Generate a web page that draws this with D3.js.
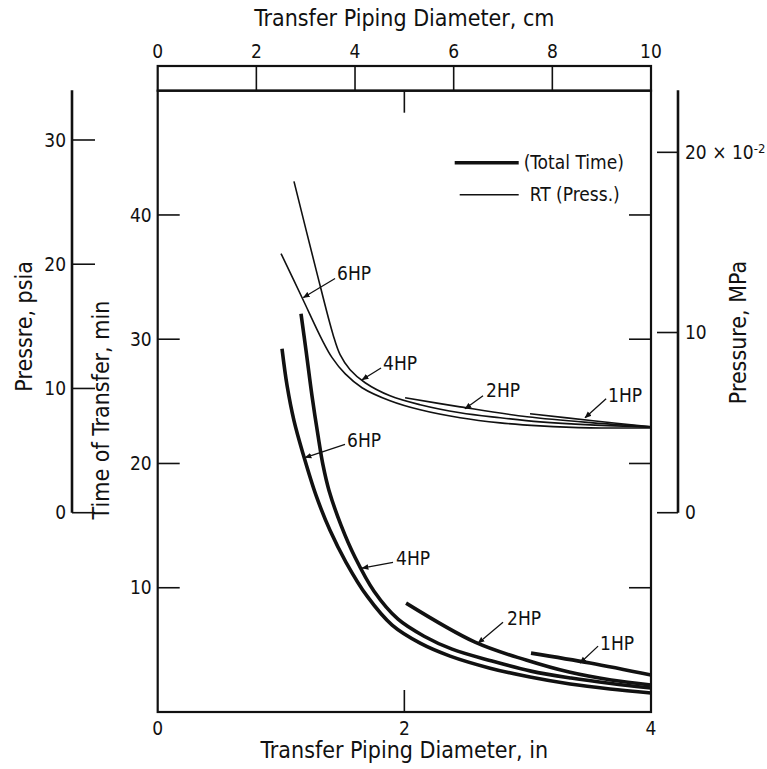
<!DOCTYPE html>
<html>
<head>
<meta charset="utf-8">
<script src="https://cdn.jsdelivr.net/npm/d3@7"></script>
<style>
  body { margin: 0; background: #fff; }
  text { font-family: "Liberation Sans Narrow", "DejaVu Sans Condensed", sans-serif; fill: #111; }
</style>
</head>
<body>
<div id="wrapper"></div>
<script>
// tick values for every axis
const inTicks = [0, 2, 4]
const cmTicks = [0, 2, 4, 6, 8, 10]
const timeTicks = [10, 20, 30, 40]
const psiaTicks = [0, 10, 20, 30]
const mpaTicks = [0, 10, 20]

// total time curves: [diameter in, time min]
const time6HP = [[1.008,29.24],[1.049,26.27],[1.105,23.45],[1.178,20.80],[1.284,17.43],[1.397,14.62],[1.527,12.05],[1.698,9.32],[1.901,6.99],[2.128,5.54],[2.371,4.50],[2.695,3.53],[3.019,2.81],[3.344,2.25],[3.668,1.85],[4.0,1.53]]
const time4HP = [[1.162,32.05],[1.203,29.08],[1.251,25.46],[1.300,22.25],[1.341,19.84],[1.389,17.83],[1.487,15.02],[1.600,12.45],[1.754,9.72],[1.949,7.47],[2.160,6.10],[2.387,5.06],[2.711,4.10],[3.027,3.29],[3.352,2.73],[3.677,2.29],[4.0,1.93]]
const time2HP = [[2.014,8.76],[2.573,5.62],[2.987,4.18],[3.336,3.21],[3.677,2.57],[4.0,2.17]]
const time1HP = [[3.027,4.74],[3.506,3.94],[4.0,2.97]]

// pressure curves: [diameter in, pressure psia]
const press6HP = [[1.0,20.86],[1.170,17.32],[1.332,13.93],[1.414,12.48],[1.519,11.19],[1.657,10.06],[1.884,9.01],[2.128,8.28],[2.452,7.64],[2.777,7.23],[3.101,6.99],[3.506,6.83],[4.0,6.83]]
const press4HP = [[1.105,26.67],[1.284,19.57],[1.422,14.33],[1.479,12.72],[1.560,11.51],[1.682,10.46],[1.884,9.41],[2.128,8.69],[2.452,8.04],[2.777,7.64],[3.101,7.31],[3.506,7.07],[4.0,6.91]]
const press2HP = [[2.006,9.25],[2.452,8.52],[2.995,7.72],[3.530,7.23],[4.0,6.91]]
const press1HP = [[3.019,7.96],[3.530,7.40],[4.0,6.91]]

// curve labels: text spot and arrow from/to, all in data units
const pressLabels = [
  {text: "6HP", at: [1.454,18.69], from: [1.438,18.85], to: [1.181,17.32]},
  {text: "4HP", at: [1.827,11.49], from: [1.811,11.65], to: [1.657,10.70]},
  {text: "2HP", at: [2.663,9.33], from: [2.638,9.41], to: [2.492,8.36]},
  {text: "1HP", at: [3.652,8.93], from: [3.636,9.17], to: [3.465,7.64]},
]
const timeLabels = [
  {text: "6HP", at: [1.536,21.29], from: [1.519,21.53], to: [1.195,20.48]},
  {text: "4HP", at: [1.933,11.81], from: [1.908,12.05], to: [1.657,11.57]},
  {text: "2HP", at: [2.833,6.99], from: [2.80,7.23], to: [2.598,5.54]},
  {text: "1HP", at: [3.587,4.98], from: [3.571,5.30], to: [3.425,3.94]},
]

const PSI_TO_MPA_E2 = 0.689476

async function drawChart() {

  let dimensions = {
    width: 767,
    height: 769,
    margin: {top: 90.7, right: 116, bottom: 57, left: 157.7},
  }
  dimensions.boundedWidth = dimensions.width - dimensions.margin.left - dimensions.margin.right
  dimensions.boundedHeight = dimensions.height - dimensions.margin.top - dimensions.margin.bottom

  const wrapper = d3.select("#wrapper").append("svg")
      .attr("width", dimensions.width)
      .attr("height", dimensions.height)

  const bounds = wrapper.append("g")
      .attr("transform", `translate(${dimensions.margin.left},${dimensions.margin.top})`)

  // scales
  const xScale = d3.scaleLinear().domain([0, 4]).range([0, dimensions.boundedWidth])
  const cmScale = d3.scaleLinear().domain([0, 10]).range([0, dimensions.boundedWidth])
  const timeScale = d3.scaleLinear().domain([0, 50]).range([dimensions.boundedHeight, 0])
  const psiaScale = d3.scaleLinear().domain([0, 34]).range([dimensions.boundedHeight - 199.3, -0.4])
  const mpaScale = d3.scaleLinear().domain([0, 34 * PSI_TO_MPA_E2]).range(psiaScale.range())

  // plot box
  bounds.append("rect")
      .attr("width", dimensions.boundedWidth)
      .attr("height", dimensions.boundedHeight)
      .attr("fill", "none")
      .attr("stroke", "#111")
      .attr("stroke-width", 2.2)

  // inner ticks on box
  const tickLen = 22
  const boxTicks = bounds.append("g").attr("stroke", "#111").attr("stroke-width", 1.6)
  boxTicks.selectAll(".tl").data(timeTicks).enter().append("line")
      .attr("x1", 0).attr("x2", tickLen)
      .attr("y1", d => timeScale(d)).attr("y2", d => timeScale(d))
  boxTicks.selectAll(".tr").data(timeTicks).enter().append("line")
      .attr("x1", dimensions.boundedWidth).attr("x2", dimensions.boundedWidth - tickLen)
      .attr("y1", d => timeScale(d)).attr("y2", d => timeScale(d))
  boxTicks.selectAll(".bt").data([2]).enter().append("line")
      .attr("x1", d => xScale(d)).attr("x2", d => xScale(d))
      .attr("y1", dimensions.boundedHeight).attr("y2", dimensions.boundedHeight - tickLen)
  boxTicks.selectAll(".tt").data([2]).enter().append("line")
      .attr("x1", d => xScale(d)).attr("x2", d => xScale(d))
      .attr("y1", 0).attr("y2", tickLen)

  // time labels, left of box
  bounds.selectAll(".timeLabel").data(timeTicks).enter().append("text")
      .attr("x", -6).attr("y", d => timeScale(d))
      .attr("dy", "0.35em")
      .attr("text-anchor", "end")
      .style("font-size", "19px")
      .text(d => d)

  // bottom inch labels
  bounds.selectAll(".inLabel").data(inTicks).enter().append("text")
      .attr("x", d => xScale(d)).attr("y", dimensions.boundedHeight + 23)
      .attr("text-anchor", "middle")
      .style("font-size", "19px")
      .text(d => d)

  bounds.append("text")
      .attr("x", dimensions.boundedWidth / 2).attr("y", dimensions.boundedHeight + 46)
      .attr("text-anchor", "middle")
      .style("font-size", "23px")
      .text("Transfer Piping Diameter, in")

  // top cm strip
  const cmStripH = 24.7
  const cmStrip = bounds.append("g").attr("transform", `translate(0,${-cmStripH})`)
  cmStrip.append("rect")
      .attr("width", dimensions.boundedWidth).attr("height", cmStripH)
      .attr("fill", "none").attr("stroke", "#111").attr("stroke-width", 2.2)
  cmStrip.selectAll(".cmTick").data(cmTicks.slice(1, -1)).enter().append("line")
      .attr("x1", d => cmScale(d)).attr("x2", d => cmScale(d))
      .attr("y1", 0).attr("y2", cmStripH)
      .attr("stroke", "#111").attr("stroke-width", 1.6)
  cmStrip.selectAll(".cmLabel").data(cmTicks).enter().append("text")
      .attr("x", d => cmScale(d)).attr("y", -8)
      .attr("text-anchor", "middle")
      .style("font-size", "19px")
      .text(d => d)
  cmStrip.append("text")
      .attr("x", dimensions.boundedWidth / 2).attr("y", -40)
      .attr("text-anchor", "middle")
      .style("font-size", "23px")
      .text("Transfer Piping Diameter, cm")

  // psia axis, far left
  const psiaX = 72 - dimensions.margin.left
  const psiaAxis = bounds.append("g")
  psiaAxis.append("line")
      .attr("x1", psiaX).attr("x2", psiaX)
      .attr("y1", psiaScale(34)).attr("y2", psiaScale(0))
      .attr("stroke", "#111").attr("stroke-width", 2.6)
  psiaAxis.selectAll(".pt").data(psiaTicks).enter().append("line")
      .attr("x1", psiaX).attr("x2", psiaX + 23)
      .attr("y1", d => psiaScale(d)).attr("y2", d => psiaScale(d))
      .attr("stroke", "#111").attr("stroke-width", 1.6)
  psiaAxis.selectAll(".pl").data(psiaTicks).enter().append("text")
      .attr("x", psiaX - 6).attr("y", d => psiaScale(d))
      .attr("dy", "0.35em").attr("text-anchor", "end")
      .style("font-size", "19px")
      .text(d => d)
  psiaAxis.append("text")
      .attr("transform", `translate(${psiaX - 40},${psiaScale(15)}) rotate(-90)`)
      .attr("text-anchor", "middle")
      .style("font-size", "23px")
      .text("Pressre, psia")

  bounds.append("text")
      .attr("transform", `translate(${-49},${timeScale(24.3)}) rotate(-90)`)
      .attr("text-anchor", "middle")
      .style("font-size", "23px")
      .text("Time of Transfer, min")

  // MPa axis, far right
  const mpaX = 678 - dimensions.margin.left
  const mpaAxis = bounds.append("g")
  mpaAxis.append("line")
      .attr("x1", mpaX).attr("x2", mpaX)
      .attr("y1", mpaScale(34 * PSI_TO_MPA_E2)).attr("y2", mpaScale(0))
      .attr("stroke", "#111").attr("stroke-width", 2.6)
  mpaAxis.selectAll(".mt").data(mpaTicks).enter().append("line")
      .attr("x1", mpaX).attr("x2", mpaX - 21)
      .attr("y1", d => mpaScale(d)).attr("y2", d => mpaScale(d))
      .attr("stroke", "#111").attr("stroke-width", 1.6)
  const mpaLabels = mpaAxis.selectAll(".ml").data(mpaTicks).enter().append("text")
      .attr("x", mpaX + 7).attr("y", d => mpaScale(d))
      .attr("dy", "0.35em")
      .style("font-size", "19px")
  mpaLabels.append("tspan").text(d => d === 20 ? "20 \u00d7 10" : d)
  mpaLabels.filter(d => d === 20).append("tspan")
      .attr("dy", "-0.45em").style("font-size", "13px")
      .text("-2")
  mpaAxis.append("text")
      .attr("transform", `translate(${mpaX + 68},${mpaScale(10)}) rotate(-90)`)
      .attr("text-anchor", "middle")
      .style("font-size", "23px")
      .text("Pressure, MPa")

  // curves
  const timeLine = d3.line()
      .x(d => xScale(d[0]))
      .y(d => timeScale(d[1]))
      .curve(d3.curveCatmullRom.alpha(0.5))
  const pressLine = d3.line()
      .x(d => xScale(d[0]))
      .y(d => psiaScale(d[1]))
      .curve(d3.curveCatmullRom.alpha(0.5))

  bounds.selectAll(".timeCurve")
      .data([time6HP, time4HP, time2HP, time1HP]).enter().append("path")
          .attr("d", timeLine)
          .attr("fill", "none")
          .attr("stroke", "#111")
          .attr("stroke-width", 3.6)

  bounds.selectAll(".pressCurve")
      .data([press6HP, press4HP, press2HP, press1HP]).enter().append("path")
          .attr("d", pressLine)
          .attr("fill", "none")
          .attr("stroke", "#111")
          .attr("stroke-width", 1.6)

  // arrow head
  wrapper.append("defs").append("marker")
      .attr("id", "head")
      .attr("viewBox", "0 0 10 10")
      .attr("refX", 9).attr("refY", 5)
      .attr("markerWidth", 7).attr("markerHeight", 7)
      .attr("markerUnits", "userSpaceOnUse")
      .attr("orient", "auto")
    .append("path")
      .attr("d", "M0,1 L10,5 L0,9 Z")
      .attr("fill", "#111")

  function drawLabels(labels, yScale) {
    const g = bounds.append("g")
    g.selectAll("line").data(labels).enter().append("line")
        .attr("x1", d => xScale(d.from[0])).attr("y1", d => yScale(d.from[1]))
        .attr("x2", d => xScale(d.to[0])).attr("y2", d => yScale(d.to[1]))
        .attr("stroke", "#111").attr("stroke-width", 1.3)
        .attr("marker-end", "url(#head)")
    g.selectAll("text").data(labels).enter().append("text")
        .attr("x", d => xScale(d.at[0])).attr("y", d => yScale(d.at[1]))
        .style("font-size", "19px")
        .text(d => d.text)
  }
  drawLabels(pressLabels, psiaScale)
  drawLabels(timeLabels, timeScale)

  // legend
  const legend = bounds.append("g")
  const legendItems = [
    {label: "(Total Time)", width: 3.6, x1: 297, row: 0},
    {label: "RT (Press.)", width: 1.6, x1: 302, row: 1},
  ]
  legend.selectAll("line").data(legendItems).enter().append("line")
      .attr("x1", d => d.x1).attr("x2", 361)
      .attr("y1", d => 72 + d.row * 32).attr("y2", d => 72 + d.row * 32)
      .attr("stroke", "#111")
      .attr("stroke-width", d => d.width)
  legend.selectAll("text").data(legendItems).enter().append("text")
      .attr("x", d => d.row === 0 ? 366 : 372)
      .attr("y", d => 72 + d.row * 32)
      .attr("dy", "0.35em")
      .style("font-size", "19px")
      .text(d => d.label)
}
drawChart()
</script>
</body>
</html>
